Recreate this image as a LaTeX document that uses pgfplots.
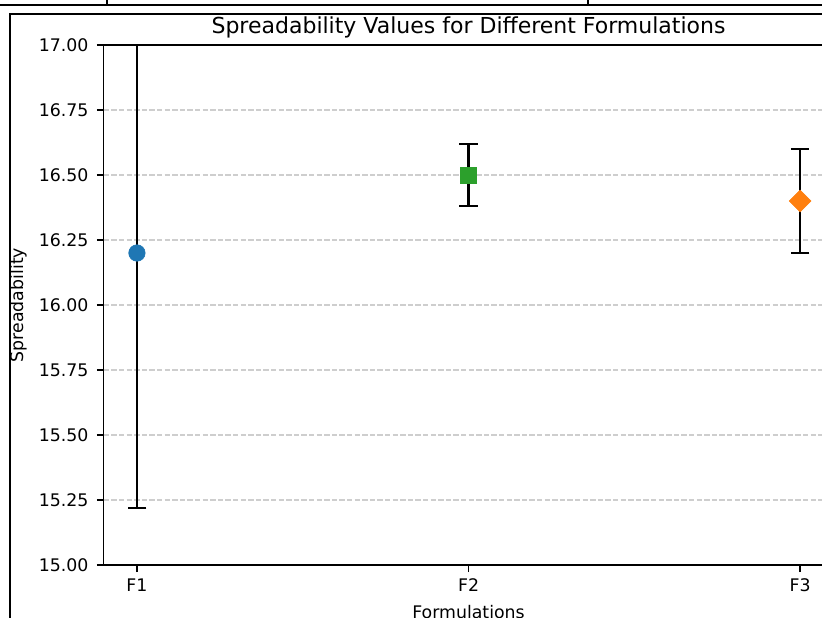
\documentclass[border=0pt]{standalone}
\usepackage{fontspec}
\setmainfont{DejaVu Sans}
\usepackage{pgfplots}
\pgfplotsset{compat=1.18}

\definecolor{mplblue}{HTML}{1F77B4}
\definecolor{mplgreen}{HTML}{2CA02C}
\definecolor{mplorange}{HTML}{FF7F0E}
\definecolor{gridgray}{RGB}{206,206,206}

\newcommand{\tickfont}{\fontsize{13}{15}\selectfont}

\begin{document}
\begin{tikzpicture}
% page is 822 x 618 px, 1 px = 0.75pt
\path[use as bounding box] (0,0) rectangle (616.5pt,463.5pt);
\clip (0,0) rectangle (616.5pt,463.5pt);

% surrounding table/frame lines from the screenshot
\begin{scope}[x=0.75pt,y=0.75pt,line width=1.5pt]
  \draw (0,612.5) -- (822,612.5);
  \draw (107,618) -- (107,612.5);
  \draw (588,618) -- (588,612.5);
  \draw (10,0) -- (10,603.7) -- (822,603.7);
\end{scope}

\begin{axis}[
    at={(77.85pt,39.75pt)}, anchor=south west,
    scale only axis,
    width=547.1pt, height=390pt,
    xmin=-0.1, xmax=2.1,
    ymin=15, ymax=17,
    xtick={0,1,2},
    xticklabels={F1,F2,F3},
    ytick={15,15.25,...,17},
    xtick pos=bottom, ytick pos=left,
    /pgf/number format/fixed,
    /pgf/number format/fixed zerofill,
    /pgf/number format/precision=2,
    /pgf/number format/assume math mode=true,
    minor tick num=0,
    tick align=outside,
    major tick length=5.25pt,
    tick style={black, line width=1pt},
    axis line style={line width=1pt},
    ymajorgrids,
    xmajorgrids=false,
    grid style={gridgray, line width=0.8pt, dash pattern=on 4pt off 1.7pt},
    ticklabel style={font=\tickfont},
    xticklabel style={anchor=base, yshift=-14.75pt},
    yticklabel style={anchor=east, inner sep=0pt, xshift=-6pt},
    title={Spreadability Values for Different Formulations},
    title style={at={(0.5,1)}, anchor=base, yshift=2.5pt, font=\fontsize{16.5}{19}\selectfont},
    xlabel={Formulations},
    xlabel style={at={(0.5,0)}, anchor=base, yshift=-40pt, font=\tickfont},
    ylabel={Spreadability},
    ylabel style={at={(axis description cs:-0.1097,0.5)}, anchor=base, font=\tickfont},
    error bars/error bar style={black, line width=1.6pt},
    error bars/error mark options={black, rotate=90, mark size=7pt, line width=1.6pt},
]
\addplot[only marks, mark=*, mark size=6.2pt, mark options={fill=mplblue, draw=mplblue},
    error bars/.cd, y dir=both, y explicit]
    coordinates {(0,16.2) +- (0,0.98)};
\addplot[only marks, mark=square*, mark size=6pt, mark options={fill=mplgreen, draw=mplgreen},
    error bars/.cd, y dir=both, y explicit]
    coordinates {(1,16.5) +- (0,0.12)};
\addplot[only marks, mark=square*, mark size=5.8pt, mark options={fill=mplorange, draw=mplorange, rotate=45},
    error bars/.cd, y dir=both, y explicit]
    coordinates {(2,16.4) +- (0,0.2)};
\end{axis}
\end{tikzpicture}
\end{document}
